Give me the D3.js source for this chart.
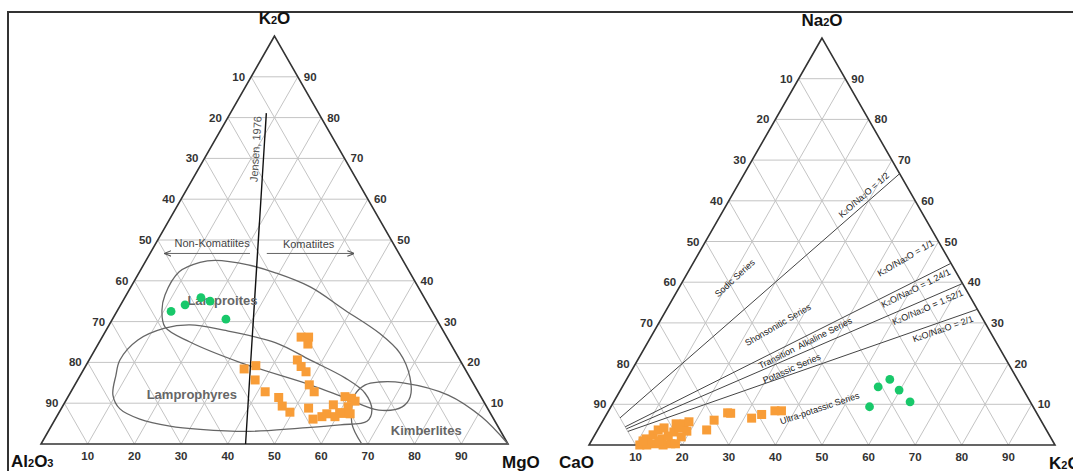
<!DOCTYPE html>
<html>
<head>
<meta charset="utf-8">
<script src="https://cdn.jsdelivr.net/npm/d3@7"></script>
<style>
    body { margin: 0; background: #fff; }
    svg text { font-family: "Liberation Sans", Arial, sans-serif; }
</style>
</head>
<body>
<div id="grafico"></div>
<script>
var ticks = [10, 20, 30, 40, 50, 60, 70, 80, 90];

// left diagram, points are [K2O, MgO] in %, Al2O3 is what is left
var lamproitesA = [[32.5, 11.6], [34.1, 13.8], [35.9, 16.3], [35.0, 18.7], [30.6, 24.3]];
var lamprophyresA = [[26.2, 42.6], [26.2, 44.2], [24.5, 44.9], [20.6, 44.6], [19.0, 46.2], [17.7, 47.9],
    [18.4, 34.3], [19.2, 36.4], [15.7, 38.0], [12.8, 41.6], [11.4, 45.2], [9.3, 47.0], [7.8, 49.4],
    [14.5, 50.2], [12.8, 52.1], [8.8, 52.9], [6.1, 55.2], [6.7, 56.8], [7.4, 57.5], [9.6, 57.8],
    [6.7, 59.6], [11.6, 59.3], [11.2, 60.9], [9.1, 61.2], [7.5, 61.0], [7.4, 62.5], [10.5, 62.0], [7.7, 60.1]];
var fieldLamproites = [[32.8, 9.5], [36.5, 8.3], [42.2, 8.5], [44.5, 11.8], [45.0, 14.8], [43.9, 22.4],
    [41.9, 29.4], [38.5, 38.4], [32.8, 48.7], [27.2, 58.8], [22.3, 65.7], [16.4, 70.8], [11.5, 73.3],
    [9.1, 72.8], [8.3, 68.2], [11.3, 59.5], [14.5, 50.4], [19.9, 32.9], [25.0, 19.4], [28.7, 12.2]];
var fieldLamprophyres = [[16.9, 7.6], [12.0, 9.4], [8.6, 12.6], [6.1, 18.1], [4.4, 25.4], [3.6, 32.3],
    [3.1, 43.2], [3.9, 53.5], [4.7, 61.7], [5.6, 67.0], [8.3, 66.7], [12.5, 63.1], [16.2, 57.0],
    [20.6, 47.3], [24.8, 37.9], [27.9, 25.2], [29.2, 17.3], [28.4, 12.3], [25.5, 8.0], [20.6, 6.6]];
var fieldKimberlites = [[0, 68.7], [5.1, 64.0], [12.0, 61.2], [14.5, 62.2], [15.2, 64.8], [15.0, 70.0],
    [12.0, 81.2], [6.6, 91.1], [0, 100]];
var jensenLine = [[0, 43.8], [81.1, 7.7]];

// right diagram, points are [Na2O, K2O] in %, CaO is what is left
var lamproitesB = [[16.1, 56.5], [14.3, 54.9], [13.5, 59.8], [10.6, 63.6], [9.4, 55.5]];
var lamprophyresB = [[8.4, 35.7], [8.4, 37.1], [7.5, 33.3], [6.6, 31.6], [7.9, 25.8], [7.8, 26.5],
    [6.1, 23.8], [3.7, 23.4], [0.0, 10.9], [0.0, 12.4], [0.3, 14.0], [0.0, 15.9], [0.3, 17.4],
    [1.5, 11.5], [2.5, 12.5], [3.7, 13.0], [1.5, 14.9], [2.2, 15.9], [3.2, 16.6], [4.2, 17.2],
    [5.2, 17.8], [5.7, 18.6], [3.4, 19.3], [2.0, 18.8], [4.2, 14.0], [5.2, 16.1], [0.5, 12.4],
    [0.3, 18.4], [1.0, 14.5], [1.0, 11.1]];
var ratioLines = [0.5, 1.24, 1.52, 2];
var ratioLabels = [
    {text: "1/2", ratio: 0.5, at: [61.4, 28.3]},
    {text: "1/1", ratio: 1, at: [45.9, 45.0]},
    {text: "1.24/1", ratio: 1.24, at: [38.5, 50.9]},
    {text: "1.52/1", ratio: 1.52, at: [33.8, 55.8]},
    {text: "2/1", ratio: 2, at: [28.5, 61.7]}
];
var seriesLabels = [
    {text: "Sodic Series", ratio: 0.45, at: [41.0, 10.8]},
    {text: "Shonsonitic Series", ratio: 1, at: [29.5, 25.8]},
    {text: "Transition  Alkaline Series", ratio: 1.24, at: [25.0, 33.9]},
    {text: "Potassic Series", ratio: 1.52, at: [18.8, 34.1]},
    {text: "Ultra-potassic Series", ratio: 2.1, at: [9.0, 45.0]}
];

var width = 1073, height = 471;
var svg = d3.select("#grafico").append("svg")
    .attr("width", width)
    .attr("height", height);

svg.append("defs").append("marker")
    .attr("id", "flecha")
    .attr("viewBox", "0 0 10 10")
    .attr("refX", 9).attr("refY", 5)
    .attr("markerWidth", 7).attr("markerHeight", 7)
    .attr("orient", "auto")
    .append("path")
    .attr("d", "M0,1 L10,5 L0,9")
    .attr("fill", "none")
    .attr("stroke", "#555")
    .attr("stroke-width", 1.5);

// frame
svg.append("path")
    .attr("d", "M8,471 L8,12 L1073,12")
    .attr("fill", "none")
    .attr("stroke", "#333")
    .attr("stroke-width", 2);

// p = [top %, right %]
function ternary(x0, x1, yBase, yTop) {
    var x = d3.scaleLinear().domain([0, 100]).range([x0, x1]);
    var y = d3.scaleLinear().domain([0, 100]).range([yBase, yTop]);
    return function(p) {
        return [x(p[1] + p[0] / 2), y(p[0])];
    };
}

function sub(sel, parts, small) {
    parts.forEach(function(t, i) {
        sel.append("tspan")
            .attr("font-size", i % 2 ? small : null)
            .text(t);
    });
}

function drawFrame(g, proj, names) {
    var line = d3.line();
    ticks.forEach(function(t) {
        [[[t, 0], [t, 100 - t]], [[0, t], [100 - t, t]], [[0, 100 - t], [100 - t, 0]]].forEach(function(seg) {
            g.append("path")
                .attr("d", line(seg.map(proj)))
                .attr("stroke", "#c4c4c4")
                .attr("stroke-width", 1)
                .attr("fill", "none");
        });
    });
    g.append("path")
        .attr("d", line([[100, 0], [0, 0], [0, 100]].map(proj)) + "Z")
        .attr("fill", "none")
        .attr("stroke", "#333")
        .attr("stroke-width", 1.6);

    var lab = g.append("g")
        .attr("font-size", 11.5)
        .attr("font-weight", "bold")
        .attr("fill", "#333");
    ticks.forEach(function(t) {
        var p = proj([100 - t, 0]);
        lab.append("text").attr("x", p[0] - 6).attr("y", p[1] + 4)
            .attr("text-anchor", "end").text(t);
        p = proj([t, 100 - t]);
        lab.append("text").attr("x", p[0] + 6).attr("y", p[1] + 4)
            .text(t);
        p = proj([0, t]);
        lab.append("text").attr("x", p[0]).attr("y", p[1] + 16)
            .attr("text-anchor", "middle").text(t);
    });

    var top = proj([100, 0]), bl = proj([0, 0]), br = proj([0, 100]);
    var c = g.append("g").attr("font-size", 17).attr("font-weight", "bold").attr("fill", "#111");
    sub(c.append("text").attr("x", top[0]).attr("y", top[1] - 12).attr("text-anchor", "middle"), names[0], 11);
    sub(c.append("text").attr("x", bl[0] - 30).attr("y", bl[1] + 23), names[1], 11);
    sub(c.append("text").attr("x", br[0] - 6).attr("y", br[1] + 24), names[2], 11);
}

function drawPoints(g, proj, green, orange) {
    g.selectAll(".cuadro").data(orange).enter().append("rect")
        .attr("class", "cuadro")
        .attr("x", function(d) { return proj(d)[0] - 4.5; })
        .attr("y", function(d) { return proj(d)[1] - 4.5; })
        .attr("width", 9).attr("height", 9)
        .attr("fill", "#f89d38");
    g.selectAll(".punto").data(green).enter().append("circle")
        .attr("class", "punto")
        .attr("cx", function(d) { return proj(d)[0]; })
        .attr("cy", function(d) { return proj(d)[1]; })
        .attr("r", 4.4)
        .attr("fill", "#18c86a");
}

// ---------- left: K2O - Al2O3 - MgO ----------
var projA = ternary(41, 508, 444, 36);
var gA = svg.append("g");
drawFrame(gA, projA, [["K", "2", "O"], ["Al", "2", "O", "3"], ["MgO"]]);

var closedLine = d3.line().curve(d3.curveCatmullRomClosed.alpha(0.5));
[fieldLamproites, fieldLamprophyres].forEach(function(f) {
    gA.append("path")
        .attr("d", closedLine(f.map(projA)))
        .attr("fill", "none")
        .attr("stroke", "#666")
        .attr("stroke-width", 1.3);
});
gA.append("path")
    .attr("d", d3.line().curve(d3.curveCatmullRom.alpha(0.5))(fieldKimberlites.map(projA)))
    .attr("fill", "none")
    .attr("stroke", "#666")
    .attr("stroke-width", 1.3);

var j0 = projA(jensenLine[0]), j1 = projA(jensenLine[1]);
gA.append("line")
    .attr("x1", j0[0]).attr("y1", j0[1]).attr("x2", j1[0]).attr("y2", j1[1])
    .attr("stroke", "#111").attr("stroke-width", 1.4);
var jp = projA([72.3, 9.8]);
var jAng = Math.atan2(j1[1] - j0[1], j1[0] - j0[0]) * 180 / Math.PI;
gA.append("text")
    .attr("transform", "translate(" + jp + ") rotate(" + jAng + ")")
    .attr("text-anchor", "middle").attr("dy", 4)
    .attr("font-size", 11).attr("fill", "#555")
    .text("Jensen, 1976");

[["Non-Komatiites", [49.3, 12.0], [46.7, 21.4], [46.7, 3.2]],
 ["Komatiites", [49.0, 32.8], [46.7, 25.0], [46.7, 43.6]]].forEach(function(k) {
    var p = projA(k[1]), a = projA(k[2]), b = projA(k[3]);
    gA.append("text").attr("x", p[0]).attr("y", p[1] + 4)
        .attr("text-anchor", "middle").attr("font-size", 11).attr("fill", "#444")
        .text(k[0]);
    gA.append("line")
        .attr("x1", a[0]).attr("y1", a[1]).attr("x2", b[0]).attr("y2", b[1])
        .attr("stroke", "#666").attr("stroke-width", 1)
        .attr("marker-end", "url(#flecha)");
});

[["Lamproites", [35.3, 21.2]], ["Lamprophyres", [12.2, 26.2]], ["Kimberlites", [3.4, 80.8]]].forEach(function(k) {
    var p = projA(k[1]);
    gA.append("text").attr("x", p[0]).attr("y", p[1] + 5)
        .attr("text-anchor", "middle")
        .attr("font-size", 13).attr("font-weight", "bold").attr("fill", "#666")
        .text(k[0]);
});

drawPoints(gA, projA, lamproitesA, lamprophyresA);

// ---------- right: Na2O - CaO - K2O ----------
var projB = ternary(589, 1055, 445, 38);
var gB = svg.append("g");
drawFrame(gB, projB, [["Na", "2", "O"], ["CaO"], ["K", "2", "O"]]);

function ratioPoint(r, s) {
    return [s / (1 + r), s * r / (1 + r)];
}
function ratioAngle(r) {
    var a = projB(ratioPoint(r, 0)), b = projB(ratioPoint(r, 100));
    return Math.atan2(b[1] - a[1], b[0] - a[0]) * 180 / Math.PI;
}

ratioLines.forEach(function(r) {
    var a = projB(ratioPoint(r, 10)), b = projB(ratioPoint(r, 100));
    gB.append("line")
        .attr("x1", a[0]).attr("y1", a[1]).attr("x2", b[0]).attr("y2", b[1])
        .attr("stroke", "#444").attr("stroke-width", 1);
});

ratioLabels.forEach(function(d) {
    var p = projB(d.at);
    var t = gB.append("text")
        .attr("transform", "translate(" + p + ") rotate(" + ratioAngle(d.ratio) + ")")
        .attr("text-anchor", "middle").attr("dy", 3)
        .attr("font-size", 9).attr("fill", "#222");
    sub(t, ["K", "2", "O/Na", "2", "O = " + d.text], 6);
});

seriesLabels.forEach(function(d) {
    var p = projB(d.at);
    gB.append("text")
        .attr("transform", "translate(" + p + ") rotate(" + ratioAngle(d.ratio) + ")")
        .attr("text-anchor", "middle").attr("dy", 3)
        .attr("font-size", 9).attr("fill", "#222")
        .attr("xml:space", "preserve")
        .text(d.text);
});

drawPoints(gB, projB, lamproitesB, lamprophyresB);
</script>
</body>
</html>
